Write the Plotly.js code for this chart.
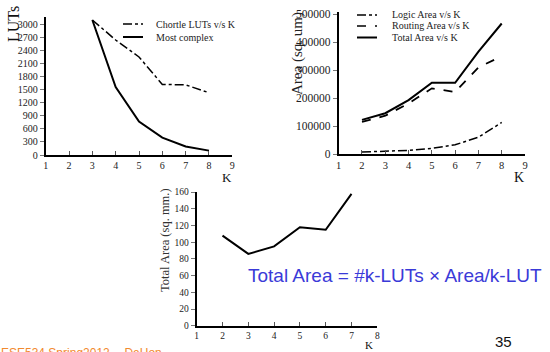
<!DOCTYPE html>
<html>
<head>
<meta charset="utf-8">
<script src="https://cdn.plot.ly/plotly-3.0.1.min.js"></script>
<style>html,body{margin:0;padding:0;background:#fff;}#chart{width:550px;height:352px;}</style>
</head>
<body>
<div id="chart"></div>
<script>
// ---- Data ----
const kChortle = [3, 4, 5, 6, 7, 8];
const chortleLUTs = [3100, 2640, 2250, 1620, 1610, 1430];
const mostComplexLUTs = [3100, 1560, 770, 400, 195, 100];

const kArea = [2, 3, 4, 5, 6, 7, 8];
const logicArea = [7000, 9000, 13000, 20000, 33000, 60000, 113000];
const routingArea = [115000, 137000, 181000, 235000, 222000, 310000, 350000];
const totalArea = [122000, 146000, 193000, 255000, 255000, 366000, 467000];

const kTotal = [2, 3, 4, 5, 6, 7];
const totalAreaMM = [108, 86, 95, 118, 115, 158];

const lutTicks = [0, 300, 600, 900, 1200, 1500, 1800, 2100, 2400, 2700, 3000];
const areaTicks = [0, 100000, 200000, 300000, 400000, 500000];
const mmTicks = [0, 20, 40, 60, 80, 100, 120, 140, 160];

const legend1Names = ['Chortle LUTs v/s K', 'Most complex'];
const legend2Names = ['Logic Area v/s K', 'Routing Area v/s K', 'Total Area v/s K'];

// ---- Styling helpers ----
const W = 550, H = 352;
const px = v => v / W;
const py = v => (H - v) / H;
const serif = "Liberation Serif, Times New Roman, serif";
const sans = "Liberation Sans, Arial, sans-serif";

function xAx(dom, range, anchor, fs) {
  const vals = [];
  for (let i = range[0]; i <= range[1]; i++) vals.push(i);
  return {domain: dom, range: range, anchor: anchor, showgrid: false, zeroline: false,
    showline: true, linecolor: '#000', linewidth: 2, ticks: 'inside', ticklen: 4,
    tickcolor: '#555', tickwidth: 1, tickvals: vals,
    tickfont: {family: serif, size: fs, color: '#222'}, fixedrange: true};
}
function yAx(dom, range, anchor, vals, fs) {
  return {domain: dom, range: range, anchor: anchor, showgrid: false, zeroline: false,
    showline: true, linecolor: '#000', linewidth: 2, ticks: 'outside', ticklen: 4,
    tickcolor: '#777', tickwidth: 1, tickvals: vals, tickformat: 'd',
    tickfont: {family: serif, size: fs, color: '#222'}, fixedrange: true};
}

const dash1 = ['dashdot', 'solid'];
const dash2 = ['dashdot', 'dash', 'solid'];

const traces = [
  {x: kChortle, y: chortleLUTs, name: legend1Names[0], mode: 'lines',
   line: {color: '#000', width: 1.5, dash: dash1[0]}, xaxis: 'x', yaxis: 'y'},
  {x: kChortle, y: mostComplexLUTs, name: legend1Names[1], mode: 'lines',
   line: {color: '#000', width: 2, dash: dash1[1]}, xaxis: 'x', yaxis: 'y'},
  {x: kArea, y: logicArea, name: legend2Names[0], mode: 'lines',
   line: {color: '#000', width: 1.5, dash: dash2[0]}, xaxis: 'x2', yaxis: 'y2'},
  {x: kArea, y: routingArea, name: legend2Names[1], mode: 'lines',
   line: {color: '#000', width: 1.8, dash: dash2[1]}, xaxis: 'x2', yaxis: 'y2'},
  {x: kArea, y: totalArea, name: legend2Names[2], mode: 'lines',
   line: {color: '#000', width: 2, dash: dash2[2]}, xaxis: 'x2', yaxis: 'y2'},
  {x: kTotal, y: totalAreaMM, name: 'Total Area', mode: 'lines',
   line: {color: '#000', width: 2}, xaxis: 'x3', yaxis: 'y3'}
];

function ann(text, x, y, font, extra) {
  return Object.assign({text: text, xref: 'paper', yref: 'paper', x: px(x), y: py(y),
    xanchor: 'center', yanchor: 'middle', showarrow: false, font: font}, extra || {});
}

const annotations = [
  ann('LUTs', 13, 24, {family: serif, size: 16, color: '#111'}, {textangle: -90}),
  ann('K', 227, 178, {family: serif, size: 13, color: '#111'}),
  ann('Area (sq. um)', 297, 54, {family: serif, size: 15, color: '#222'}, {textangle: -90}),
  ann('K', 519, 177, {family: serif, size: 14, color: '#111'}),
  ann('Total Area (sq. mm.)', 165, 240, {family: serif, size: 12.5, color: '#333'}, {textangle: -90}),
  ann('K', 369, 353, {family: serif, size: 11, color: '#111'}, {yanchor: 'bottom'}),
  ann('Total Area = #k-LUTs \u00d7 Area/k-LUT', 395, 275, {family: sans, size: 19, color: '#3a3ad8'}),
  ann('35', 503, 341, {family: sans, size: 15, color: '#111'}),
  ann('ESE534 Spring2012 -- DeHon', -1, 344, {family: sans, size: 12, color: '#f28a2e'},
      {xanchor: 'left', yanchor: 'top'})
];
const shapes = [];
const legFont = {family: serif, size: 10, color: '#222'};
const leg1Rows = [24, 37];
legend1Names.forEach((n, i) => {
  annotations.push(ann(n, 154, leg1Rows[i], legFont, {xanchor: 'left'}));
  shapes.push({type: 'line', xref: 'paper', yref: 'paper', x0: px(123), x1: px(143),
    y0: py(leg1Rows[i]), y1: py(leg1Rows[i]), line: {color: '#000', width: i === 1 ? 2 : 1.5, dash: dash1[i]}});
});
const leg2Rows = [15, 26, 37.5];
legend2Names.forEach((n, i) => {
  annotations.push(ann(n, 390, leg2Rows[i], legFont, {xanchor: 'left'}));
  shapes.push({type: 'line', xref: 'paper', yref: 'paper', x0: px(357), x1: px(377),
    y0: py(leg2Rows[i]), y1: py(leg2Rows[i]), line: {color: '#000', width: i === 2 ? 2 : 1.5, dash: dash2[i]}});
});

const layout = {
  width: W, height: H,
  margin: {l: 0, r: 0, t: 0, b: 0},
  paper_bgcolor: '#fff', plot_bgcolor: 'rgba(0,0,0,0)',
  showlegend: false,
  xaxis: xAx([px(45.7), px(232.3)], [1, 9], 'y', 10),
  yaxis: yAx([py(155), py(17)], [0, 3168], 'x', lutTicks, 10),
  xaxis2: xAx([px(338.7), px(525)], [1, 9], 'y2', 10.5),
  yaxis2: yAx([py(154), py(12)], [0, 508200], 'x2', areaTicks, 11.5),
  xaxis3: xAx([px(196.7), px(377.3)], [1, 8], 'y3', 9.5),
  yaxis3: yAx([py(325.7), py(192)], [0, 160.2], 'x3', mmTicks, 9.5),
  annotations: annotations,
  shapes: shapes
};

Plotly.newPlot('chart', traces, layout, {staticPlot: true, displayModeBar: false});
</script>
</body>
</html>
